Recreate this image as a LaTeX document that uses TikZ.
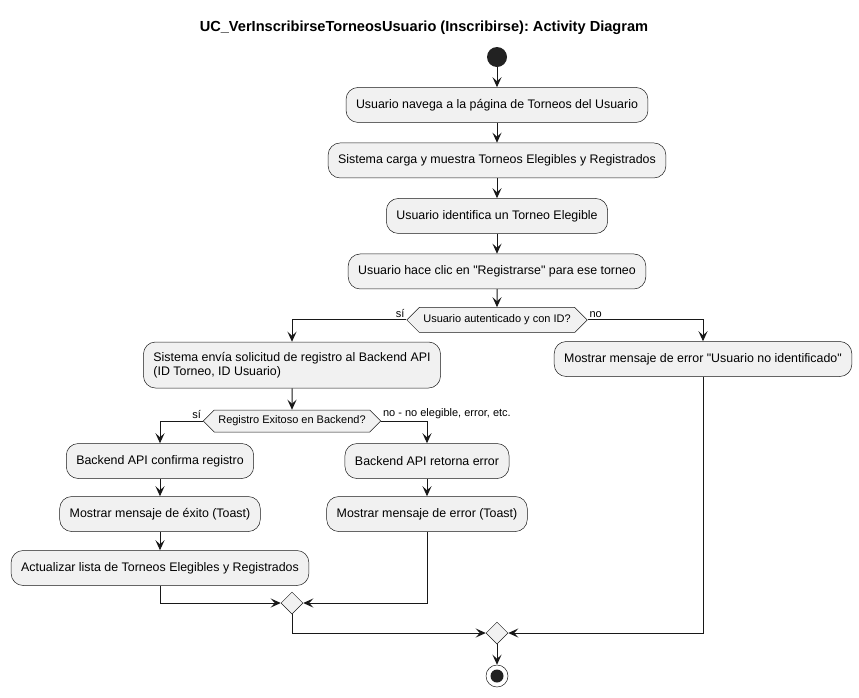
\documentclass[tikz,border=0pt]{standalone}
\usepackage{fontspec}
\setmainfont[Ligatures=TeXOff]{Liberation Sans}
\usepackage{xcolor}
\usepackage{tikz}
\usetikzlibrary{shapes.geometric,shapes.symbols,arrows.meta,positioning}

\definecolor{boxfill}{HTML}{F1F1F1}
\definecolor{linec}{HTML}{181818}
\definecolor{startc}{HTML}{222222}
\frenchspacing

\begin{document}
\begin{tikzpicture}[x=1pt, y=-1pt, node distance=20pt,
    act/.style={rectangle, rounded corners=12pt, draw=linec, fill=boxfill, line width=0.5pt, minimum height=35pt, inner xsep=10pt, font=\fontsize{12.4}{14.5}\selectfont},
    cond/.style={signal, signal to=west and east, signal pointer angle=90, draw=linec, fill=boxfill, line width=0.5pt, minimum height=25pt, inner xsep=4pt, font=\fontsize{11}{13}\selectfont},
    merge/.style={diamond, draw=linec, fill=boxfill, line width=0.5pt, minimum size=22pt, inner sep=0pt},
    lbl/.style={font=\fontsize{11}{13}\selectfont, inner sep=1.5pt},
    arrow/.style={-{Stealth[length=10pt, width=9pt, inset=4pt]}, draw=linec, line width=1pt},
    line/.style={draw=linec, line width=1pt}]

    \useasboundingbox (0,0) rectangle (859,697);

    \node[font=\fontsize{14.6}{17}\selectfont\bfseries] (title) at (424,28) {UC\_VerInscribirseTorneosUsuario (Inscribirse): Activity Diagram};

    % main column
    \node[circle, fill=startc, minimum size=20pt, inner sep=0pt] (start) at (497,57) {};
    \node[act, below=of start] (navega) {Usuario navega a la página de Torneos del Usuario};
    \node[act, below=of navega] (carga) {Sistema carga y muestra Torneos Elegibles y Registrados};
    \node[act, below=of carga] (identifica) {Usuario identifica un Torneo Elegible};
    \node[act, below=of identifica] (clic) {Usuario hace clic en "Registrarse" para ese torneo};
    \node[cond, below=18pt of clic] (autent) {Usuario autenticado y con ID?};

    % branches
    \node[act, minimum height=46pt, align=left] (solicitud) at (292,365) {Sistema envía solicitud de registro al Backend API\\(ID Torneo, ID Usuario)};
    \node[act] (noident) at (703,359) {Mostrar mensaje de error "Usuario no identificado"};
    \node[cond, minimum height=22pt] (exitoso) at (292,421) {Registro Exitoso en Backend?};
    \node[act] (confirma) at (160,461) {Backend API confirma registro};
    \node[act] (retorna) at (427,461) {Backend API retorna error};
    \node[act] (exito) at (160,514) {Mostrar mensaje de éxito (Toast)};
    \node[act] (errtoast) at (427,514) {Mostrar mensaje de error (Toast)};
    \node[act] (actualiza) at (160,568) {Actualizar lista de Torneos Elegibles y Registrados};

    % merges and end
    \node[merge] (merge1) at (292,603) {};
    \node[merge] (merge2) at (497,633) {};
    \node[circle, draw=linec, line width=0.5pt, minimum size=22pt, inner sep=0pt,
          path picture={\fill[startc] (path picture bounding box.center) circle (6.5pt);}] (stop) at (497,676) {};

    \draw[arrow] (start) -- (navega);
    \draw[arrow] (navega) -- (carga);
    \draw[arrow] (carga) -- (identifica);
    \draw[arrow] (identifica) -- (clic);
    \draw[arrow] (clic) -- (autent);
    \draw[arrow] (autent.west) node[lbl, above left] {sí} -| (solicitud);
    \draw[arrow] (autent.east) node[lbl, above right] {no} -| (noident);
    \draw[arrow] (solicitud) -- (exitoso);
    \draw[arrow] (exitoso.west) node[lbl, above left] {sí} -| (confirma);
    \draw[arrow] (exitoso.east) node[lbl, above right] {no - no elegible, error, etc.} -| (retorna);
    \draw[arrow] (confirma) -- (exito);
    \draw[arrow] (exito) -- (actualiza);
    \draw[arrow] (retorna) -- (errtoast);
    \draw[arrow] (actualiza.south) |- (merge1.west);
    \draw[arrow] (errtoast.south) |- (merge1.east);
    \draw[arrow] (merge1.south) |- (merge2.west);
    \draw[arrow] (noident.south) |- (merge2.east);
    \draw[arrow] (merge2) -- (stop);

\end{tikzpicture}
\end{document}
